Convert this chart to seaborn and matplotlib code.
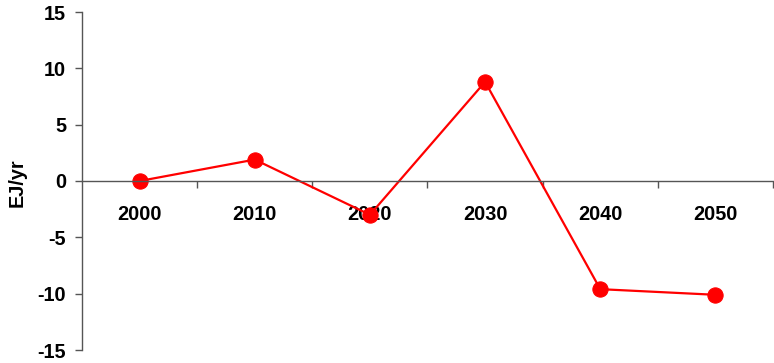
import matplotlib
matplotlib.use("Agg")
import matplotlib.pyplot as plt
import seaborn as sns
import pandas as pd

years = ["2000", "2010", "2020", "2030", "2040", "2050"]
values = [0.0, 1.9, -3.0, 8.8, -9.6, -10.1]
y_ticks = [-15, -10, -5, 0, 5, 10, 15]

sns.set_theme(style="white")
plt.rcParams['font.family'] = ['Liberation Sans', 'DejaVu Sans']
plt.rcParams['font.weight'] = 'bold'
plt.rcParams['text.color'] = 'black'
plt.rcParams['axes.labelcolor'] = 'black'
plt.rcParams['axes.labelweight'] = 'bold'
plt.rcParams['xtick.color'] = 'black'
plt.rcParams['ytick.color'] = 'black'

df = pd.DataFrame({"year": years, "value": values})

fig = plt.figure(figsize=(7.74, 3.63), dpi=100)
ax = fig.add_axes([82/774, 13/363, (773-82)/774, (350-12)/363])

sns.lineplot(data=df, x="year", y="value", ax=ax, color="#ff0000",
             linewidth=1.6, marker="o", markersize=11,
             markeredgecolor="#ff0000", markerfacecolor="#ff0000")

ax.set_xlim(-0.5, len(years) - 0.5)
ax.set_ylim(-15, 15)
ax.set_yticks(y_ticks)
ax.set_yticklabels([str(t) for t in y_ticks], fontweight="bold")
ax.set_xticks(range(len(years)))
ax.set_xticklabels(years, fontweight="bold")
ax.set_xticks([i + 0.5 for i in range(len(years))], minor=True)
ax.tick_params(axis="x", which="major", length=0, pad=17, bottom=True, labelsize=14.3, labelcolor="black")
ax.tick_params(axis="x", which="minor", length=5, width=1, color="#555555", direction="out", bottom=True)
ax.tick_params(axis="y", which="major", length=5, width=1, color="#555555", direction="out", left=True, pad=6.5,
               labelsize=14.3, labelcolor="black")

for s in ["top", "right"]:
    ax.spines[s].set_visible(False)
ax.spines["bottom"].set_position(("data", 0))
ax.spines["bottom"].set_color("#555555")
ax.spines["left"].set_color("#555555")
ax.spines["bottom"].set_linewidth(1)
ax.spines["left"].set_linewidth(1)

ax.set_xlabel("")
ax.set_ylabel("EJ/yr", fontsize=14.3, fontweight="bold", color="black")
ax.yaxis.set_label_coords(-0.0805, 0.495)
ax.patch.set_alpha(0)

fig.savefig("out.png", dpi=100)
